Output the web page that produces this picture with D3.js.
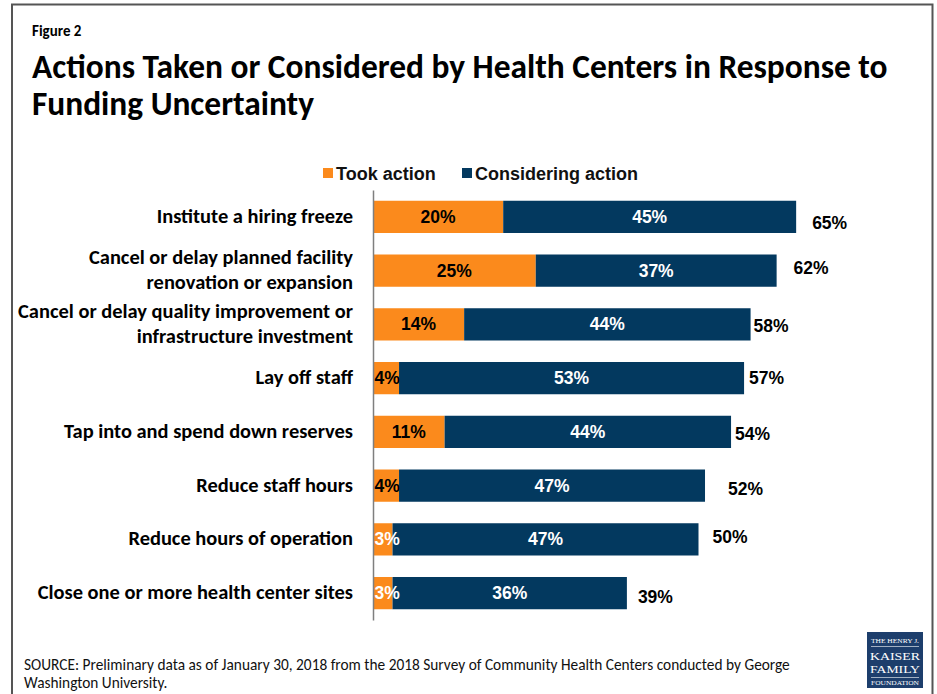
<!DOCTYPE html>
<html>
<head>
<meta charset="utf-8">
<script src="https://cdn.jsdelivr.net/npm/d3@7/dist/d3.min.js"></script>
<style>
  html, body { margin: 0; padding: 0; background: #fff; }
  svg { display: block; }
</style>
</head>
<body>
<svg id="chart" width="937" height="694"></svg>
<script>
// ---- Data ----
const categories = [
  "Institute a hiring freeze",
  "Cancel or delay planned facility\nrenovation or expansion",
  "Cancel or delay quality improvement or\ninfrastructure investment",
  "Lay off staff",
  "Tap into and spend down reserves",
  "Reduce staff hours",
  "Reduce hours of operation",
  "Close one or more health center sites"
];
const tookAction = [20, 25, 14, 4, 11, 4, 3, 3];
const consideringAction = [45, 37, 44, 53, 44, 47, 47, 36];
const totals = [65, 62, 58, 57, 54, 52, 50, 39];
const seriesNames = ["Took action", "Considering action"];

// Hand nudges for the total labels [dx from bar end, dy from bar centre]
const totalNudge = [[16, 6], [17, -3], [3, 2], [5, 0], [4, 2], [23, 3], [14, -2], [11, 4]];

// ---- Styles ----
const ORANGE = "#FB8A1C";
const NAVY = "#03395F";
const calibri = "Carlito, Calibri, Lato, 'Open Sans', sans-serif";
const arial = "'Liberation Sans', Arial, Helvetica, sans-serif";

const svg = d3.select("#chart");

// Shrink/grow a text element's font size so it spans the given width
function fitWidth(sel, target) {
  const node = sel.node();
  const w = node.getComputedTextLength();
  const fs = parseFloat(sel.attr("font-size"));
  sel.attr("font-size", (fs * target / w).toFixed(2));
}

// Frame (open at the bottom)
svg.append("path")
  .attr("d", "M12,700 L12,4.5 L932.5,4.5 L932.5,700")
  .attr("fill", "none")
  .attr("stroke", "#555")
  .attr("stroke-width", 2);

// Heading
svg.append("text")
  .attr("x", 32).attr("y", 36)
  .attr("font-family", calibri).attr("font-weight", "bold")
  .attr("font-size", 15).attr("fill", "#000")
  .text("Figure 2");

const t1 = svg.append("text")
  .attr("x", 32).attr("y", 78)
  .attr("font-family", calibri).attr("font-weight", "bold")
  .attr("font-size", 30).attr("fill", "#000")
  .text("Actions Taken or Considered by Health Centers in Response to");
fitWidth(t1, 856);
svg.append("text")
  .attr("x", 32).attr("y", 115)
  .attr("font-family", calibri).attr("font-weight", "bold")
  .attr("font-size", t1.attr("font-size")).attr("fill", "#000")
  .text("Funding Uncertainty");

// ---- Scales ----
const x = d3.scaleLinear().domain([0, 100]).range([373, 373 + 651]);
const y = d3.scaleBand().domain(categories).range([190, 620])
  .paddingInner(0.4).paddingOuter(0.2);
const color = d3.scaleOrdinal().domain(seriesNames).range([ORANGE, NAVY]);

// ---- Legend ----
const legend = svg.append("g").attr("font-family", arial).attr("font-weight", "bold")
  .attr("font-size", 18);
const legendX = [323, 462];
seriesNames.forEach((name, i) => {
  legend.append("rect")
    .attr("x", legendX[i]).attr("y", 168).attr("width", 10).attr("height", 10)
    .attr("fill", color(name));
  legend.append("text")
    .attr("x", legendX[i] + 13).attr("y", 180)
    .attr("fill", "#111")
    .text(name);
});

// ---- Bars ----
const rows = categories.map((c, i) => ({
  cat: c, took: tookAction[i], cons: consideringAction[i], total: totals[i], i
}));
const stacked = d3.stack().keys(["took", "cons"])(rows);

const barG = svg.append("g");
stacked.forEach((layer, li) => {
  barG.selectAll(null).data(layer).enter().append("rect")
    .attr("x", d => x(d[0]))
    .attr("y", d => y(d.data.cat))
    .attr("width", d => x(d[1]) - x(d[0]))
    .attr("height", y.bandwidth())
    .attr("fill", color(seriesNames[li]));
});

// Axis line
const axis = svg.append("g")
  .attr("transform", `translate(${x(0)},0)`)
  .call(d3.axisLeft(y).tickSize(0).tickSizeOuter(0).tickFormat(""));
axis.select(".domain").attr("stroke", "#7f7f7f").attr("stroke-width", 1.5);

// Segment value labels
const valG = svg.append("g").attr("font-family", arial).attr("font-weight", "bold")
  .attr("font-size", 17.5).attr("text-anchor", "middle");
stacked[0].forEach(d => {
  const v = d.data.took;
  const t = valG.append("text")
    .attr("y", y(d.data.cat) + y.bandwidth() / 2 + 6)
    .attr("fill", v <= 3 ? "#fff" : "#000")
    .text(v + "%");
  const w = t.node().getComputedTextLength();
  const cx = Math.max((x(d[0]) + x(d[1])) / 2, x(d[0]) + w / 2 + 1.5);
  t.attr("x", cx);
});
stacked[1].forEach(d => {
  valG.append("text")
    .attr("x", (x(d[0]) + x(d[1])) / 2)
    .attr("y", y(d.data.cat) + y.bandwidth() / 2 + 6)
    .attr("fill", "#fff")
    .text(d.data.cons + "%");
});

// Total labels
stacked[1].forEach((d, i) => {
  valG.append("text")
    .attr("text-anchor", "start")
    .attr("x", x(d[1]) + totalNudge[i][0])
    .attr("y", y(d.data.cat) + y.bandwidth() / 2 + 6 + totalNudge[i][1])
    .attr("fill", "#000")
    .text(d.data.total + "%");
});

// Category labels
const catG = svg.append("g").attr("font-family", calibri).attr("font-weight", "bold")
  .attr("font-size", 17).attr("text-anchor", "end").attr("fill", "#000");
categories.forEach(c => {
  const lines = c.split("\n");
  const cy = y(c) + y.bandwidth() / 2;
  const t = catG.append("text").attr("x", 353);
  lines.forEach((ln, k) => {
    t.append("tspan")
      .attr("x", 353)
      .attr("y", cy + 6 + (k - (lines.length - 1) / 2) * 25)
      .text(ln);
  });
});
// Size the labels so the longest line spans the available width
{
  let maxW = 0;
  catG.selectAll("tspan").each(function () {
    maxW = Math.max(maxW, this.getComputedTextLength());
  });
  catG.attr("font-size", (17 * 335 / maxW).toFixed(2));
}

// Source note
const src1 = svg.append("text")
  .attr("x", 24).attr("y", 670)
  .attr("font-family", calibri).attr("font-size", 14).attr("fill", "#111")
  .text("SOURCE: Preliminary data as of January 30, 2018 from the 2018 Survey of Community Health Centers conducted by George");
fitWidth(src1, 766);
svg.append("text")
  .attr("x", 24).attr("y", 688)
  .attr("font-family", calibri).attr("font-size", src1.attr("font-size")).attr("fill", "#111")
  .text("Washington University.");

// Foundation logo
const logo = svg.append("g").attr("transform", "translate(867,632)");
logo.append("rect").attr("width", 56).attr("height", 56).attr("fill", "#1D3E6C");
const serif = "'Liberation Serif', 'DejaVu Serif', serif";
logo.append("text").attr("x", 28).attr("y", 10.5).attr("text-anchor", "middle")
  .attr("font-family", serif).attr("font-size", 6).attr("fill", "#fff")
  .attr("textLength", 48).attr("lengthAdjust", "spacingAndGlyphs")
  .text("THE HENRY J.");
logo.append("line").attr("x1", 4).attr("x2", 52).attr("y1", 14.5).attr("y2", 14.5)
  .attr("stroke", "#fff").attr("stroke-width", 0.6);
logo.append("text").attr("x", 28).attr("y", 27.5).attr("text-anchor", "middle")
  .attr("font-family", serif).attr("font-size", 11).attr("fill", "#fff")
  .attr("textLength", 50).attr("lengthAdjust", "spacingAndGlyphs")
  .text("KAISER");
logo.append("text").attr("x", 28).attr("y", 41).attr("text-anchor", "middle")
  .attr("font-family", serif).attr("font-size", 11).attr("fill", "#fff")
  .attr("textLength", 50).attr("lengthAdjust", "spacingAndGlyphs")
  .text("FAMILY");
logo.append("line").attr("x1", 4).attr("x2", 52).attr("y1", 45.5).attr("y2", 45.5)
  .attr("stroke", "#fff").attr("stroke-width", 0.6);
logo.append("text").attr("x", 28).attr("y", 52.5).attr("text-anchor", "middle")
  .attr("font-family", serif).attr("font-size", 5.6).attr("fill", "#fff")
  .attr("textLength", 48).attr("lengthAdjust", "spacingAndGlyphs")
  .text("FOUNDATION");
</script>
</body>
</html>
